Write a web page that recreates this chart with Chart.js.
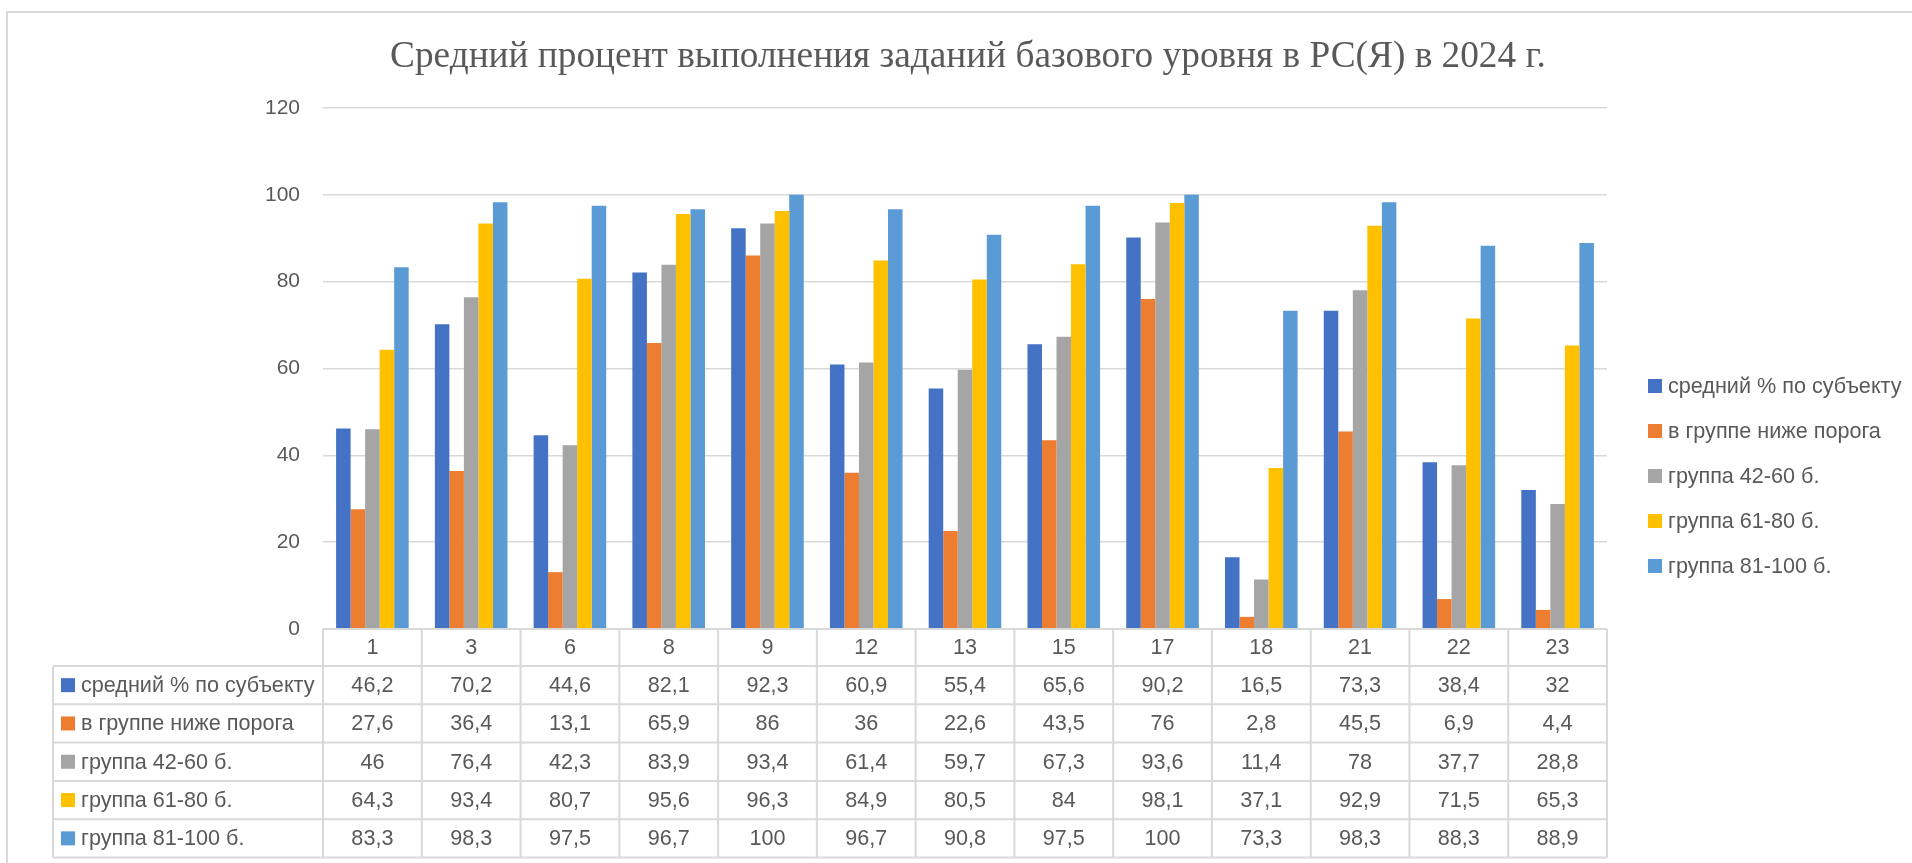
<!DOCTYPE html>
<html lang="ru">
<head>
<meta charset="utf-8">
<title>Средний процент выполнения заданий</title>
<script src="https://cdn.jsdelivr.net/npm/chart.js@4"></script>
<style>
    body { margin: 0; background: #fff; }
    #wrap { width: 1912px; height: 863px; }
</style>
</head>
<body>
<div id="wrap"><canvas id="chart" width="1912" height="863"></canvas></div>
<script>
// Номера заданий
const categories = ['1', '3', '6', '8', '9', '12', '13', '15', '17', '18', '21', '22', '23'];

// Значения рядов
const avgSubject = [46.2, 70.2, 44.6, 82.1, 92.3, 60.9, 55.4, 65.6, 90.2, 16.5, 73.3, 38.4, 32];
const belowThreshold = [27.6, 36.4, 13.1, 65.9, 86, 36, 22.6, 43.5, 76, 2.8, 45.5, 6.9, 4.4];
const group42to60 = [46, 76.4, 42.3, 83.9, 93.4, 61.4, 59.7, 67.3, 93.6, 11.4, 78, 37.7, 28.8];
const group61to80 = [64.3, 93.4, 80.7, 95.6, 96.3, 84.9, 80.5, 84, 98.1, 37.1, 92.9, 71.5, 65.3];
const group81to100 = [83.3, 98.3, 97.5, 96.7, 100, 96.7, 90.8, 97.5, 100, 73.3, 98.3, 88.3, 88.9];

const seriesNames = ['средний % по субъекту', 'в группе ниже порога', 'группа 42-60 б.', 'группа 61-80 б.', 'группа 81-100 б.'];
const seriesValues = [avgSubject, belowThreshold, group42to60, group61to80, group81to100];
const seriesColors = ['#4472C4', '#ED7D31', '#A5A5A5', '#FFC000', '#5B9BD5'];

const yMin = 0;
const yMax = 120;
const yStep = 20;

const chartTitle = 'Средний процент выполнения заданий базового уровня в РС(Я) в 2024 г.';

const textColor = '#595959';
const lineColor = '#D9D9D9';
const labelFont = '21.6px "Liberation Sans", Arial, sans-serif';

function fmt(v) {
    return String(v).replace('.', ',');
}

// Рамка, заголовок, легенда и таблица данных
const decorPlugin = {
    id: 'decor',
    beforeDraw(chart) {
        const ctx = chart.ctx;
        ctx.save();
        ctx.fillStyle = '#fff';
        ctx.fillRect(0, 0, chart.width, chart.height);
        ctx.strokeStyle = lineColor;
        ctx.lineWidth = 2;
        ctx.strokeRect(7, 12, chart.width + 20, chart.height + 20);
        ctx.restore();
    },
    afterDraw(chart) {
        const ctx = chart.ctx;
        const area = chart.chartArea;
        const x = chart.scales.x;
        ctx.save();

        // заголовок
        ctx.fillStyle = textColor;
        ctx.font = '37.3px "Liberation Serif", "Times New Roman", serif';
        ctx.textAlign = 'center';
        ctx.textBaseline = 'alphabetic';
        ctx.fillText(chartTitle, 968, 67);

        // легенда справа
        ctx.font = labelFont;
        ctx.textAlign = 'left';
        ctx.textBaseline = 'middle';
        seriesNames.forEach((name, i) => {
            const cy = 386 + i * 45;
            ctx.fillStyle = seriesColors[i];
            ctx.fillRect(1648, cy - 7, 14, 14);
            ctx.fillStyle = textColor;
            ctx.fillText(name, 1668, cy + 1);
        });

        // таблица данных
        const colW = (area.right - area.left) / categories.length;
        const top = area.bottom;
        const headH = 37;
        const rowH = 38.3;
        const tableLeft = 53;
        const bottom = top + headH + rowH * seriesNames.length;

        ctx.strokeStyle = lineColor;
        ctx.lineWidth = 2;
        ctx.beginPath();
        ctx.moveTo(area.left, top);
        ctx.lineTo(area.right, top);
        for (let r = 0; r <= seriesNames.length; r++) {
            const y = top + headH + r * rowH;
            ctx.moveTo(tableLeft, y);
            ctx.lineTo(area.right, y);
        }
        ctx.moveTo(tableLeft, top + headH);
        ctx.lineTo(tableLeft, bottom);
        for (let c = 0; c <= categories.length; c++) {
            const xx = area.left + c * colW;
            ctx.moveTo(xx, top);
            ctx.lineTo(xx, bottom);
        }
        ctx.stroke();

        ctx.textAlign = 'center';
        ctx.fillStyle = textColor;
        categories.forEach((cat, c) => {
            const cx = x.getPixelForValue(c);
            ctx.fillText(cat, cx, top + headH / 2 + 1);
            seriesValues.forEach((vals, r) => {
                ctx.fillText(fmt(vals[c]), cx, top + headH + r * rowH + rowH / 2 + 1);
            });
        });

        ctx.textAlign = 'left';
        seriesNames.forEach((name, r) => {
            const cy = top + headH + r * rowH + rowH / 2;
            ctx.fillStyle = seriesColors[r];
            ctx.fillRect(61, cy - 7, 14, 14);
            ctx.fillStyle = textColor;
            ctx.fillText(name, 81, cy + 1);
        });

        ctx.restore();
    }
};

document.addEventListener('DOMContentLoaded', () => {
    const canvas = document.getElementById('chart');

    const datasets = seriesNames.map((name, i) => ({
        label: name,
        data: seriesValues[i],
        backgroundColor: seriesColors[i],
        borderWidth: 0,
        categoryPercentage: 0.735,
        barPercentage: 1.0
    }));

    new Chart(canvas.getContext('2d'), {
        type: 'bar',
        data: { labels: categories, datasets: datasets },
        options: {
            responsive: false,
            animation: false,
            layout: {
                padding: { left: 0, right: 305, top: 108, bottom: 234 }
            },
            scales: {
                x: {
                    display: false,
                    grid: { display: false }
                },
                y: {
                    min: yMin,
                    max: yMax,
                    afterFit: (scale) => { scale.width = 323; },
                    border: { display: false },
                    grid: { color: lineColor, lineWidth: 1.5, drawTicks: false },
                    ticks: {
                        stepSize: yStep,
                        padding: 23,
                        color: textColor,
                        font: { family: '"Liberation Sans", Arial, sans-serif', size: 21 }
                    }
                }
            },
            plugins: {
                legend: { display: false },
                title: { display: false },
                tooltip: { enabled: false }
            }
        },
        plugins: [decorPlugin]
    });
});
</script>
</body>
</html>
